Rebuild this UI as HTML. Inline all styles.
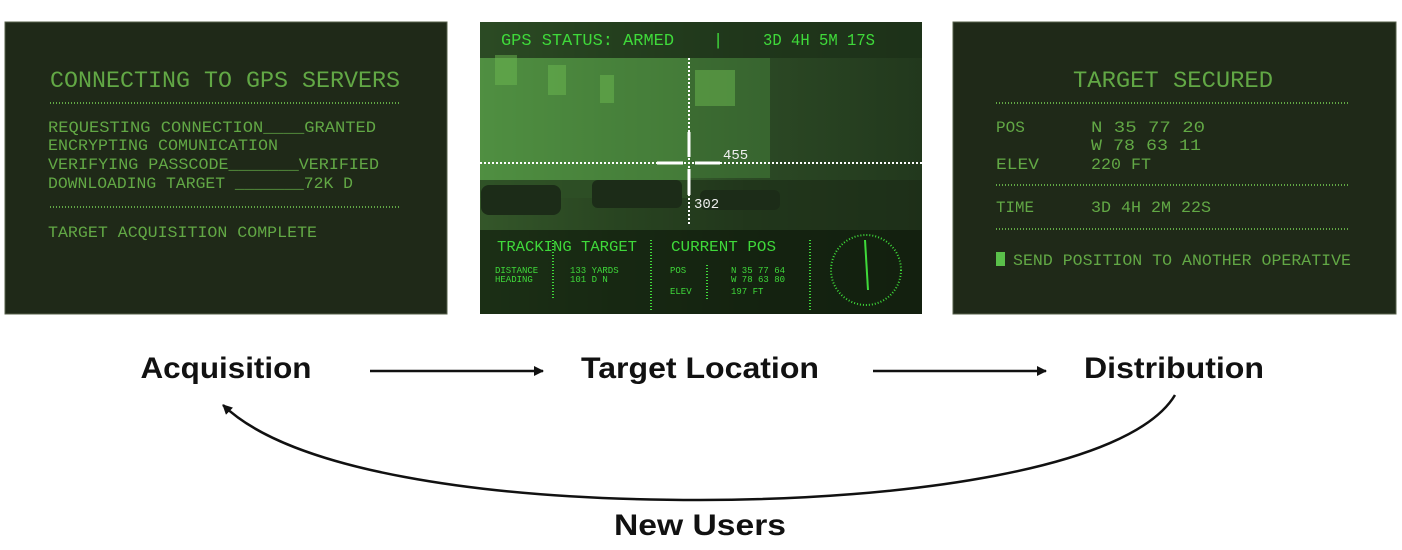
<!DOCTYPE html>
<html><head><meta charset="utf-8"><style>
html,body{margin:0;padding:0;background:#fff;width:1402px;height:550px;overflow:hidden}
svg{display:block}
.m{font-family:"Liberation Mono",monospace;fill:#62a845}
.b{font-family:"Liberation Sans",sans-serif;font-weight:bold;fill:#111}
</style></head><body>
<svg width="1402" height="550" viewBox="0 0 1402 550" xmlns="http://www.w3.org/2000/svg">
<defs>
<linearGradient id="sky" x1="0" y1="0" x2="1" y2="0">
<stop offset="0" stop-color="#5a9a48"/><stop offset="0.3" stop-color="#3f6e33"/><stop offset="0.6" stop-color="#2c4a25"/><stop offset="1" stop-color="#22381d"/>
</linearGradient>
<marker id="ah" markerWidth="10" markerHeight="10" refX="9" refY="5" orient="auto" markerUnits="userSpaceOnUse">
<path d="M0,0 L10,5 L0,10 z" fill="#111"/></marker>
</defs>
<!-- Panel 1 -->
<rect x="5" y="22" width="442" height="292" fill="#1f2918" stroke="#55604a" stroke-width="1"/>
<g class="m">
<text x="50" y="87" font-size="23" textLength="350" lengthAdjust="spacingAndGlyphs">CONNECTING TO GPS SERVERS</text>
<line x1="50" y1="103" x2="400" y2="103" stroke="#62a845" stroke-width="2" stroke-dasharray="1,2"/>
<text x="48" y="132" font-size="16" textLength="328" lengthAdjust="spacingAndGlyphs">REQUESTING CONNECTION____GRANTED</text>
<text x="48" y="150" font-size="16" textLength="230" lengthAdjust="spacingAndGlyphs">ENCRYPTING COMUNICATION</text>
<text x="48" y="169" font-size="16" textLength="331" lengthAdjust="spacingAndGlyphs">VERIFYING PASSCODE_______VERIFIED</text>
<text x="48" y="188" font-size="16" textLength="305" lengthAdjust="spacingAndGlyphs">DOWNLOADING TARGET _______72K D</text>
<line x1="50" y1="207" x2="400" y2="207" stroke="#62a845" stroke-width="2" stroke-dasharray="1,2"/>
<text x="48" y="237" font-size="16" textLength="269" lengthAdjust="spacingAndGlyphs">TARGET ACQUISITION COMPLETE</text>
</g>
<!-- Panel 2 -->
<rect x="480" y="22" width="442" height="292" fill="url(#sky)"/>
<rect x="480" y="58" width="210" height="140" fill="#4c8a3e" opacity="0.7"/>
<rect x="690" y="58" width="80" height="120" fill="#3f7434" opacity="0.7"/>
<rect x="480" y="180" width="442" height="50" fill="#1a2a16" opacity="0.6"/>
<rect x="480" y="22" width="442" height="36" fill="#1c3018" opacity="0.75"/>
<rect x="480" y="230" width="442" height="84" fill="#101c0d" opacity="0.85"/>
<g fill="#6cb850" opacity="0.5"><rect x="495" y="55" width="22" height="30"/><rect x="548" y="65" width="18" height="30"/><rect x="600" y="75" width="14" height="28"/><rect x="695" y="70" width="40" height="36"/></g>
<g fill="#1c2c18"><rect x="481" y="185" width="80" height="30" rx="8"/><rect x="592" y="180" width="90" height="28" rx="6"/><rect x="700" y="190" width="80" height="20" rx="6"/></g>
<g class="m" fill="#3ee23a" style="fill:#3fd93a">
<text x="501" y="45" font-size="17" textLength="173" lengthAdjust="spacingAndGlyphs">GPS STATUS: ARMED</text>
<text x="713" y="45" font-size="17">|</text>
<text x="763" y="45" font-size="17" textLength="112" lengthAdjust="spacingAndGlyphs">3D 4H 5M 17S</text>
<text x="497" y="251" font-size="15" textLength="140" lengthAdjust="spacingAndGlyphs">TRACKING TARGET</text>
<text x="671" y="251" font-size="15" textLength="105" lengthAdjust="spacingAndGlyphs">CURRENT POS</text>
<text x="495" y="273" font-size="9">DISTANCE</text><text x="495" y="282" font-size="9">HEADING</text>
<text x="570" y="273" font-size="9">133 YARDS</text><text x="570" y="282" font-size="9">101 D N</text>
<text x="670" y="273" font-size="9">POS</text><text x="670" y="294" font-size="9">ELEV</text>
<text x="731" y="273" font-size="9">N 35 77 64</text><text x="731" y="282" font-size="9">W 78 63 80</text><text x="731" y="294" font-size="9">197 FT</text>
</g>
<g stroke="#3fd93a" stroke-width="2" stroke-dasharray="1,2" fill="none">
<line x1="553" y1="240" x2="553" y2="300"/><line x1="651" y1="240" x2="651" y2="310"/><line x1="707" y1="265" x2="707" y2="300"/><line x1="810" y1="240" x2="810" y2="310"/>
<circle cx="866" cy="270" r="35"/>
</g>
<line x1="865" y1="240" x2="868" y2="290" stroke="#3fd93a" stroke-width="2"/>
<g stroke="#fff" fill="none">
<line x1="480" y1="163" x2="922" y2="163" stroke-width="2" stroke-dasharray="2,2"/>
<line x1="689" y1="58" x2="689" y2="225" stroke-width="2" stroke-dasharray="2,2"/>
<line x1="657" y1="163" x2="683" y2="163" stroke-width="3"/><line x1="695" y1="163" x2="720" y2="163" stroke-width="3"/>
<line x1="689" y1="132" x2="689" y2="157" stroke-width="3"/><line x1="689" y1="169" x2="689" y2="195" stroke-width="3"/>
</g>
<text x="723" y="159" font-family="Liberation Mono,monospace" font-size="14" fill="#eee">455</text>
<text x="694" y="208" font-family="Liberation Mono,monospace" font-size="14" fill="#eee">302</text>
<!-- Panel 3 -->
<rect x="953" y="22" width="443" height="292" fill="#1f2918" stroke="#55604a" stroke-width="1"/>
<g class="m">
<text x="1073" y="87" font-size="23" textLength="200" lengthAdjust="spacingAndGlyphs">TARGET SECURED</text>
<line x1="996" y1="103" x2="1350" y2="103" stroke="#62a845" stroke-width="2" stroke-dasharray="1,2"/>
<text x="996" y="132" font-size="16">POS</text>
<text x="1091" y="132" font-size="16" textLength="114" lengthAdjust="spacingAndGlyphs">N  35 77 20</text>
<text x="1091" y="150" font-size="16" textLength="110" lengthAdjust="spacingAndGlyphs">W  78 63 11</text>
<text x="996" y="169" font-size="16" textLength="43" lengthAdjust="spacingAndGlyphs">ELEV</text>
<text x="1091" y="169" font-size="16" textLength="60" lengthAdjust="spacingAndGlyphs">220 FT</text>
<line x1="996" y1="185" x2="1350" y2="185" stroke="#62a845" stroke-width="2" stroke-dasharray="1,2"/>
<text x="996" y="212" font-size="16" textLength="38" lengthAdjust="spacingAndGlyphs">TIME</text>
<text x="1091" y="212" font-size="16" textLength="120" lengthAdjust="spacingAndGlyphs">3D 4H 2M  22S</text>
<line x1="996" y1="229" x2="1350" y2="229" stroke="#62a845" stroke-width="2" stroke-dasharray="1,2"/>
<rect x="996" y="252" width="9" height="14" fill="#5ac04a"/>
<text x="1013" y="265" font-size="16" textLength="338" lengthAdjust="spacingAndGlyphs">SEND POSITION TO ANOTHER OPERATIVE</text>
</g>
<!-- labels -->
<g class="b" font-size="30">
<text x="226" y="378" text-anchor="middle" textLength="171" lengthAdjust="spacingAndGlyphs">Acquisition</text>
<text x="700" y="378" text-anchor="middle" textLength="238" lengthAdjust="spacingAndGlyphs">Target Location</text>
<text x="1174" y="378" text-anchor="middle" textLength="180" lengthAdjust="spacingAndGlyphs">Distribution</text>
<text x="700" y="535" text-anchor="middle" textLength="172" lengthAdjust="spacingAndGlyphs">New Users</text>
</g>
<g stroke="#111" stroke-width="2.5" fill="none">
<line x1="370" y1="371" x2="543" y2="371" marker-end="url(#ah)"/>
<line x1="873" y1="371" x2="1046" y2="371" marker-end="url(#ah)"/>
<path d="M1175,395 C1130,470 900,500 700,500 C480,500 290,470 223,405" marker-end="url(#ah)"/>
</g>
</svg>
</body></html>
